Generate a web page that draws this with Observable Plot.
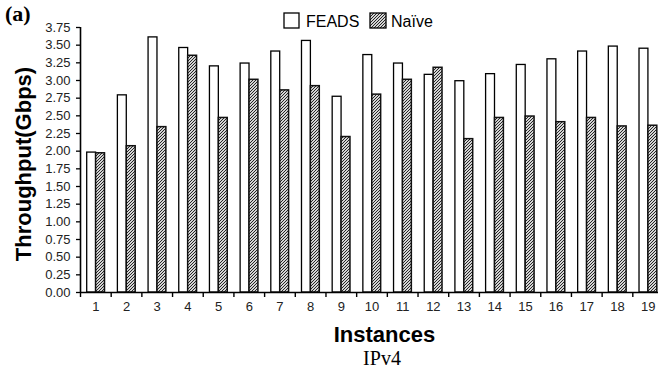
<!DOCTYPE html>
<html><head><meta charset="utf-8">
<script src="https://cdn.jsdelivr.net/npm/d3@7"></script>
<script src="https://cdn.jsdelivr.net/npm/@observablehq/plot@0.6"></script>
<style>
html,body{margin:0;padding:0;background:#fff;}
#chart{position:relative;width:658px;height:373px;overflow:hidden;}
</style></head><body><div id="chart"></div>
<script>
const instances = ["1","2","3","4","5","6","7","8","9","10","11","12","13","14","15","16","17","18","19"];
const feads = [1.98, 2.79, 3.61, 3.46, 3.20, 3.24, 3.41, 3.56, 2.77, 3.36, 3.24, 3.08, 2.99, 3.09, 3.22, 3.30, 3.41, 3.48, 3.45];
const naive = [1.97, 2.07, 2.34, 3.35, 2.47, 3.01, 2.86, 2.92, 2.20, 2.80, 3.01, 3.18, 2.17, 2.47, 2.49, 2.41, 2.47, 2.35, 2.36];
const yTicks = [0,0.25,0.5,0.75,1,1.25,1.5,1.75,2,2.25,2.5,2.75,3,3.25,3.5,3.75];
const seriesNames = ["FEADS", "Naïve"];
const yTitle = "Throughput(Gbps)";
const xTitle = "Instances";
const caption = "IPv4";
const panel = "(a)";

const W = 658, H = 373, mL = 80, mT = 27, mB = 81, xEnd = 663;
const bw = (xEnd - mL) / instances.length;
const pad = 6.7, barW = 8.9;
const data = instances.map((d, i) => ({instance: d, feads: feads[i], naive: naive[i]}));
const sans = "'Liberation Sans', Arial, sans-serif";
const serif = "'Liberation Serif', 'Times New Roman', serif";

const plot = Plot.plot({
  width: W, height: H,
  marginLeft: mL, marginTop: mT, marginBottom: mB, marginRight: 0,
  style: {fontFamily: sans, fontSize: "13px", color: "#000", background: "#fff"},
  x: {domain: instances, range: [mL, xEnd], padding: 0, round: false, label: null, axis: null},
  y: {domain: [0, 3.75], label: null, axis: null},
  marks: [
    Plot.barY(data, {x: "instance", y: "feads", fill: "white", stroke: "#000", strokeWidth: 1.3,
      insetLeft: pad, insetRight: bw - pad - barW}),
    Plot.barY(data, {x: "instance", y: "naive", fill: "url(#hatch)", stroke: "#111", strokeWidth: 1.5,
      insetLeft: pad + barW, insetRight: bw - pad - 2 * barW}),
    Plot.axisY({ticks: yTicks, tickFormat: d3.format(".2f"), tickSize: 4, tickPadding: 6, label: null, strokeWidth: 1.3, fill: "#222"}),
    Plot.axisX({tickSize: 5, tickFormat: () => "", dx: -bw / 2, label: null, strokeWidth: 1.4}),
    Plot.axisX({tickSize: 0, tickPadding: 9, label: null, fill: "#222"}),
    Plot.ruleY([0], {stroke: "#000", strokeWidth: 1.6}),
    Plot.ruleX([instances[0]], {dx: -bw / 2, stroke: "#000", strokeWidth: 1.6})
  ]
});

const svg = d3.select(plot);
const defs = svg.insert("defs", ":first-child");
const pat = defs.append("pattern").attr("id", "hatch").attr("patternUnits", "userSpaceOnUse")
  .attr("width", 3).attr("height", 3);
pat.append("rect").attr("width", 3).attr("height", 3).attr("fill", "#d4d4d4");
pat.append("path").attr("d", "M-1,1 L1,-1 M0,3 L3,0 M2,4 L4,2").attr("stroke", "#262626").attr("stroke-width", 1);

const addText = (t, attrs) => {
  const el = svg.append("text").text(t).attr("text-anchor", "start").attr("fill", "#000");
  for (const k in attrs) el.attr(k, attrs[k]);
  return el;
};
addText(panel, {x: 5, y: 21, "font-family": serif, "font-weight": "bold", "font-size": 22});
addText(yTitle, {transform: "translate(31,164) rotate(-90)", "text-anchor": "middle", "font-family": sans, "font-weight": "bold", "font-size": 22});
addText(xTitle, {x: 384.5, y: 341.5, "text-anchor": "middle", "font-family": sans, "font-weight": "bold", "font-size": 22});
addText(caption, {x: 382, y: 365, "text-anchor": "middle", "font-family": serif, "font-size": 20});

svg.append("rect").attr("x", 284).attr("y", 13).attr("width", 15).attr("height", 15)
  .attr("fill", "white").attr("stroke", "#000").attr("stroke-width", 1.3);
addText(seriesNames[0], {x: 306, y: 27, "font-family": sans, "font-size": 16});
svg.append("rect").attr("x", 370).attr("y", 13).attr("width", 16).attr("height", 15)
  .attr("fill", "url(#hatch)").attr("stroke", "#000").attr("stroke-width", 1.3);
addText(seriesNames[1], {x: 391, y: 27, "font-family": sans, "font-size": 16});

document.getElementById("chart").appendChild(plot);
</script></body></html>
